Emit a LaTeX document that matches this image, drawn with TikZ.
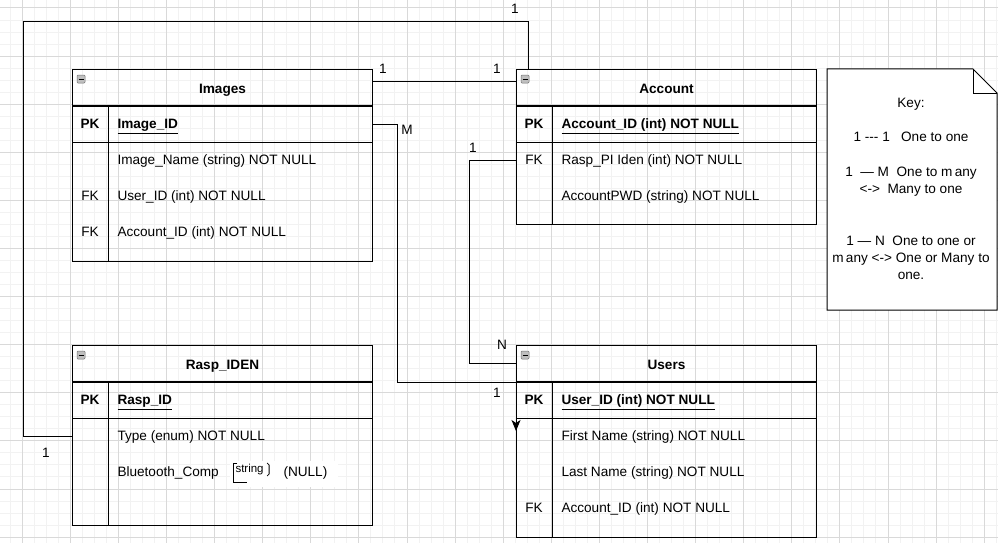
\documentclass[tikz,border=0pt]{standalone}
\usepackage{fontspec}
\setmainfont{Liberation Sans}
\usetikzlibrary{arrows.meta,positioning}

\begin{document}
\begin{tikzpicture}[x=1pt,y=-1pt,line width=1pt,
  >={Stealth[length=11pt,width=9pt,inset=3pt]},
  txt/.style={font=\fontsize{13.6}{17}\selectfont},
  tbl/.style={draw, anchor=north west, minimum width=300pt, inner sep=0pt},
  hdr/.style={draw, anchor=north west, minimum width=300pt, minimum height=36pt, inner sep=0pt, text height=12pt, text depth=1pt, font=\bfseries\fontsize{13.6}{17}\selectfont},
  pkrow/.style={draw, minimum width=300pt, minimum height=36pt, inner sep=0pt},
  keyl/.style={txt, inner sep=0pt, text height=11pt, text depth=2pt},
  pkl/.style={keyl, font=\bfseries\fontsize{13.6}{17}\selectfont},
  field/.style={txt, anchor=west, inner sep=0pt, text height=11pt, text depth=2pt},
  pkf/.style={field, font=\bfseries\fontsize{13.6}{17}\selectfont},
  icon/.style={draw=black!55, fill=black!25, line width=0.5pt, rounded corners=1pt, minimum size=8pt, inner sep=0pt},
  lbl/.style={txt, inner sep=0pt},
  minorgrid/.style={draw=black!5, line width=0.6pt},
  majorgrid/.style={draw=black!15, line width=0.6pt}]

\useasboundingbox[fill=white] (0,0) rectangle (998,543);

% grid
\foreach \gx in {-1,...,81}
  \draw[minorgrid] (22+12.025*\gx,0) -- (22+12.025*\gx,543);
\foreach \gy in {0,...,44}
  \draw[minorgrid] (0,7.8+12.025*\gy) -- (998,7.8+12.025*\gy);
\foreach \gx in {0,...,20}
  \draw[majorgrid] (22+48.1*\gx,0) -- (22+48.1*\gx,543);
\foreach \gy in {0,...,11}
  \draw[majorgrid] (0,7.8+48.1*\gy) -- (998,7.8+48.1*\gy);

% Images
\node[tbl, minimum height=192pt] (img) at (72,69) {};
\node[hdr] (imgh) at (img.north west) {Images};
\node[pkrow, below=0pt of imgh] (imgpk) {};
\draw ([xshift=36pt]imgpk.north west) -- ([xshift=36pt]img.south west);
\node[icon] at ([shift={(9pt,-10pt)}]img.north west) {};
\draw[line width=0.8pt] ([shift={(6.5pt,-10pt)}]img.north west) -- ++(5,0);
\node[pkl] (imgpkl) at (90,124) {PK};
\node[pkf] (imgid) at (117,124) {\underline{Image\_ID}};
\node[field] (imgname) at (117,160) {Image\_Name (string) NOT NULL};
\node[keyl] (imgfk1) at (90,196) {FK};
\node[field] (imguser) at (117,196) {User\_ID (int) NOT NULL};
\node[keyl] (imgfk2) at (90,232) {FK};
\node[field] (imgacc) at (117,232) {Account\_ID (int) NOT NULL};

% Account
\node[tbl, minimum height=155pt] (acc) at (516,69) {};
\node[hdr] (acch) at (acc.north west) {Account};
\node[pkrow, below=0pt of acch] (accpk) {};
\draw ([xshift=36pt]accpk.north west) -- ([xshift=36pt]acc.south west);
\node[icon] at ([shift={(9pt,-10pt)}]acc.north west) {};
\draw[line width=0.8pt] ([shift={(6.5pt,-10pt)}]acc.north west) -- ++(5,0);
\node[pkl] (accpkl) at (534,124) {PK};
\node[pkf] (accid) at (561,124) {\underline{Account\_ID (int) NOT NULL}};
\node[keyl] (accfk) at (534,160) {FK};
\node[field] (accrasp) at (561,160) {Rasp\_PI Iden (int) NOT NULL};
\node[field] (accpwd) at (561,196) {AccountPWD (string) NOT NULL};

% Rasp_IDEN
\node[tbl, minimum height=180pt] (rasp) at (72,345) {};
\node[hdr] (rasph) at (rasp.north west) {Rasp\_IDEN};
\node[pkrow, below=0pt of rasph] (rasppk) {};
\draw ([xshift=36pt]rasppk.north west) -- ([xshift=36pt]rasp.south west);
\node[icon] at ([shift={(9pt,-10pt)}]rasp.north west) {};
\draw[line width=0.8pt] ([shift={(6.5pt,-10pt)}]rasp.north west) -- ++(5,0);
\node[pkl] (rasppkl) at (90,400) {PK};
\node[pkf] (raspid) at (117,400) {\underline{Rasp\_ID}};
\node[field] (rtype) at (117,436) {Type (enum) NOT NULL};
\fill[white] (230,461) rectangle (338,487);
\node[field] (bt) at (117,472) {Bluetooth\_Comp};
\node[field, font=\fontsize{11.5}{13}\selectfont, text height=8pt, text depth=1pt] (btstr) at (235,469) {string};
\node[field] (btnull) at (283,472) {(NULL)};
\draw[line width=0.8pt] ([shift={(2pt,1pt)}]btstr.north west) -- ++(-4,0) -- ++(0,19) -- ++(14,0);
\draw[line width=0.8pt] ([shift={(3pt,1pt)}]btstr.north east) -- ++(2,2) -- ++(0,9) -- ++(-2,2);

% Users
\node[tbl, minimum height=192pt] (usr) at (516,345) {};
\node[hdr] (usrh) at (usr.north west) {Users};
\node[pkrow, below=0pt of usrh] (usrpk) {};
\draw ([xshift=36pt]usrpk.north west) -- ([xshift=36pt]usr.south west);
\node[icon] at ([shift={(9pt,-10pt)}]usr.north west) {};
\draw[line width=0.8pt] ([shift={(6.5pt,-10pt)}]usr.north west) -- ++(5,0);
\node[pkl] (usrpkl) at (534,400) {PK};
\node[pkf] (usrid) at (561,400) {\underline{User\_ID (int) NOT NULL}};
\node[field] (usrfirst) at (561,436) {First Name (string) NOT NULL};
\node[field] (usrlast) at (561,472) {Last Name (string) NOT NULL};
\node[keyl] (usrfk) at (534,508) {FK};
\node[field] (usracc) at (561,508) {Account\_ID (int) NOT NULL};

% key note
\node[minimum width=169pt, minimum height=240pt, anchor=north west, inner sep=0pt] (key) at (827,69) {};
\draw[fill=white] (key.north west) -- ([xshift=-24pt]key.north east) -- ([yshift=-24pt]key.north east)
  -- (key.south east) -- (key.south west) -- cycle;
\draw ([xshift=-24pt]key.north east) |- ([yshift=-24pt]key.north east);
\node[txt, align=center, anchor=north, inner sep=0pt] (keytxt) at (911,98)
  {Key:\\[17pt] 1 -{}-{}- 1 \ \ One to one\\[18pt] 1 \ --- M \ One to m\,any\\ <-> \ Many to one\\[35pt]
   1 --- N \ One to one or\\ m\,any <-> One or Many to\\ one.};

% connectors
\draw ([xshift=12pt]acch.north west) |- (23,22) |- (rasp.west |- rtype);
\draw ([yshift=-12pt]imgh.north east) -- ([yshift=-12pt]acch.north west);
\draw[->] (imgpk.east) -- ++(24,0) |- (usrh.south west) -- ++(0,49);
\draw (accfk -| acc.west) -- ++(-47,0) |- (usrh.west);

% cardinalities
\node[lbl] (c1) at (515,9) {1};
\node[lbl] (c2) at (383,69) {1};
\node[lbl] (c3) at (497,69) {1};
\node[lbl] (c4) at (407,130) {M};
\node[lbl] (c5) at (473,148) {1};
\node[lbl] (c6) at (502,345) {N};
\node[lbl] (c7) at (497,393) {1};
\node[lbl] (c8) at (46,453) {1};
\end{tikzpicture}
\end{document}
